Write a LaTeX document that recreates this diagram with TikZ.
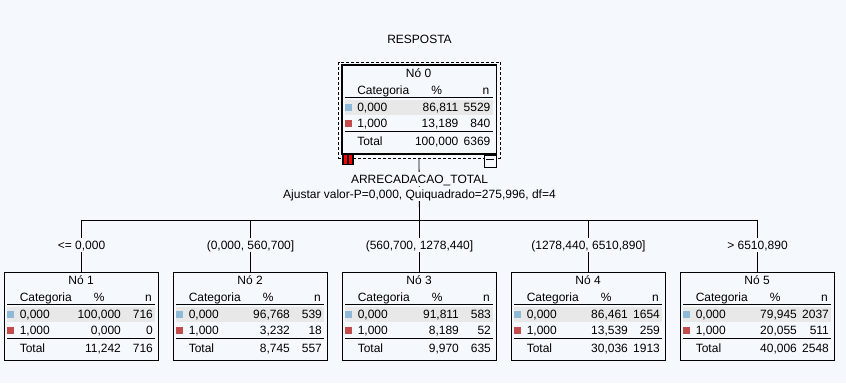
\documentclass[tikz,border=0pt]{standalone}
\usepackage{fontspec}
\setmainfont{Liberation Sans}

\definecolor{bgblue}{HTML}{F5F9FD}
\definecolor{rowgrey}{HTML}{E8E8E8}
\definecolor{catblue}{HTML}{8FBAD7}
\definecolor{catred}{HTML}{C24B4B}

\tikzset{
  txt/.style={inner sep=0pt,text height=8.6pt,text depth=0pt,
    font=\fontsize{12}{14}\selectfont},
  lbl/.style={txt,inner sep=3pt,fill=bgblue},
  tabbox/.style={draw,fill=bgblue,anchor=north,inner sep=0pt,
    minimum width=154pt,minimum height=88pt,line width=0.8pt},
  rule/.style={line width=0.8pt}
}

% #1 index, #2/#3 centre x / top y, then % and n of 0,000 / 1,000 / Total
\newcommand{\tabnode}[9]{%
  \node[tabbox] (n#1) at (#2,#3) {};
  \begin{scope}[shift={(n#1.north west)}]
    \fill[rowgrey] (3,35) rectangle (151,50);
    \node[txt] (ti#1) at (77,8.5) {Nó #1};
    \node[txt,anchor=west] (hc#1) at (15.5,25) {Categoria};
    \node[txt] (hp#1) at (95,25) {\%};
    \node[txt,anchor=east] (hn#1) at (148,25) {n};
    \draw[rule] (3,32) -- (151,32);
    \fill[catblue] (3,39) rectangle (10,46);
    \node[txt,anchor=west] (ca#1) at (15.5,42) {0,000};
    \node[txt,anchor=east] (pa#1) at (117,42) {#4};
    \node[txt,anchor=east] (na#1) at (149,42) {#5};
    \fill[catred] (3,55) rectangle (10,62);
    \node[txt,anchor=west] (cb#1) at (15.5,58) {1,000};
    \node[txt,anchor=east] (pb#1) at (117,58) {#6};
    \node[txt,anchor=east] (nb#1) at (149,58) {#7};
    \draw[rule] (3,66) -- (151,66);
    \node[txt,anchor=west] (ct#1) at (15.5,76) {Total};
    \node[txt,anchor=east] (pt#1) at (117,76) {#8};
    \node[txt,anchor=east] (nt#1) at (149,76) {#9};
  \end{scope}}

\begin{document}
\begin{tikzpicture}[x=1pt,y=-1pt]
  \useasboundingbox[fill=bgblue] (0,0) rectangle (846,383);

  \node[txt] (title) at (419.5,39.5) {RESPOSTA};

  % root node
  \tabnode{0}{419}{65}{86,811}{5529}{13,189}{840}{100,000}{6369}
  \draw[line width=1.8pt] (n0.north west) rectangle (n0.south east);
  \draw[line width=0.6pt,dash pattern=on 3pt off 2pt]
    ([shift={(-3,-3)}]n0.north west) rectangle ([shift={(4,4)}]n0.south east);
  \fill[black] (n0.south west) rectangle +(12,11);
  \fill[red] ([shift={(2,1)}]n0.south west) rectangle +(3,9);
  \fill[red] ([shift={(7,1)}]n0.south west) rectangle +(3,9);
  \draw[line width=0.6pt,fill=bgblue] ([shift={(-12,1)}]n0.south east) rectangle +(12,12);
  \draw[line width=0.6pt] ([shift={(-10,5)}]n0.south east) -- +(8,0);

  % child nodes
  \tabnode{1}{81.5}{272}{100,000}{716}{0,000}{0}{11,242}{716}
  \tabnode{2}{250.5}{272}{96,768}{539}{3,232}{18}{8,745}{557}
  \tabnode{3}{419.5}{272}{91,811}{583}{8,189}{52}{9,970}{635}
  \tabnode{4}{588.5}{272}{86,461}{1654}{13,539}{259}{30,036}{1913}
  \tabnode{5}{757.5}{272}{79,945}{2037}{20,055}{511}{40,006}{2548}

  % connectors
  \coordinate (split) at (419.5,220);
  \draw[rule] ([yshift=-4pt]n0.south) -- (split);
  \foreach \i in {1,...,5}
    \draw[rule] (split) -| (n\i.north);

  \node[lbl] (var) at (419.5,179) {ARRECADACAO\_TOTAL};
  \node[lbl] (stat) at (419.5,194) {Ajustar valor-P=0,000, Quiquadrado=275,996, df=4};
  \foreach \i/\lab in {1/{<= 0,000},2/{(0,000, 560,700]},3/{(560,700, 1278,440]},
      4/{(1278,440, 6510,890]},5/{> 6510,890}}
    \node[lbl] (s\i) at ([shift={(0,-27)}]n\i.north) {\lab};
\end{tikzpicture}
\end{document}
